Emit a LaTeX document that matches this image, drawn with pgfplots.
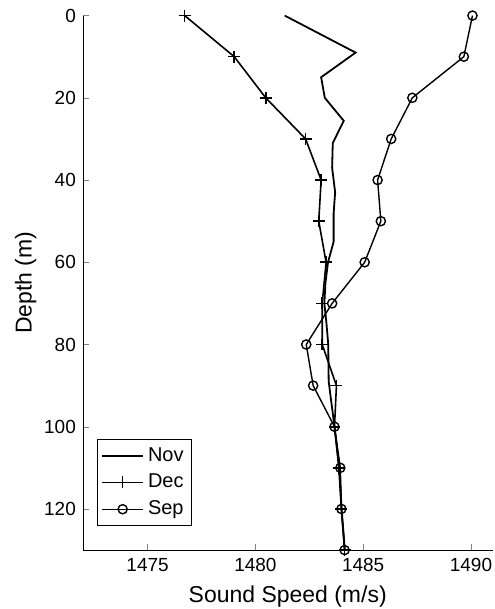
\documentclass[border=0pt]{standalone}
\usepackage{pgfplots}
\pgfplotsset{compat=1.18}
\usepackage{fontspec}
\setmainfont{Liberation Sans}
\begin{document}
\begin{tikzpicture}
\begin{axis}[
  scale only axis,
  width=205pt, height=267.5pt,
  xmin=1472, xmax=1491,
  ymin=0, ymax=130,
  y dir=reverse,
  axis x line*=bottom,
  axis y line*=left,
  tick align=inside,
  major tick length=3pt,
  xtick={1475,1480,1485,1490},
  ytick={0,20,40,60,80,100,120},
  /pgf/number format/assume math mode=true,
  /pgf/number format/1000 sep={},
  ticklabel style={font=\fontsize{9.5}{11}\selectfont},
  xticklabel style={anchor=base, yshift=-10.8pt},
  xlabel={Sound Speed (m/s)},
  ylabel={Depth (m)},
  label style={font=\fontsize{11.5}{13}\selectfont},
  xlabel style={at={(axis description cs:0.5,0)}, anchor=base, yshift=-26.3pt},
  ylabel style={at={(axis description cs:0,0.5)}, anchor=south, yshift=19.7pt},
  legend style={at={(axis description cs:0,0)}, anchor=south west, xshift=7pt, yshift=12pt,
    draw=black, font=\fontsize{10}{12}\selectfont, inner sep=2pt, row sep=1pt,
    cells={anchor=west}},
  legend image code/.code={\draw[mark repeat=2,mark phase=2] plot coordinates {(0cm,0cm)(0.36cm,0cm)(0.72cm,0cm)};},
  every axis plot/.append style={black},
]
\addplot[mark=none, line width=0.9pt] coordinates {
(1481.36,0) (1484.65,9) (1483.05,15) (1483.22,20) (1484.10,25.6) (1483.59,31) (1483.56,37)
(1483.70,43) (1483.63,48) (1483.63,55) (1483.37,60) (1483.25,65) (1483.20,70) (1483.30,75)
(1483.38,80) (1483.40,89) (1483.67,100) (1483.90,110) (1484.00,120) (1484.15,130)};
\addlegendentry{Nov}
\addplot[mark=+, mark size=3pt, line width=0.8pt] coordinates {
(1476.72,0) (1479.02,10) (1480.48,20) (1482.33,30) (1483.05,40) (1482.94,50) (1483.28,60)
(1483.10,70) (1483.10,80) (1483.76,90) (1483.67,100) (1483.87,110) (1483.99,120) (1484.14,130)};
\addlegendentry{Dec}
\addplot[mark=o, mark size=2.3pt, line width=0.7pt] coordinates {
(1490.07,0) (1489.67,10) (1487.28,20) (1486.30,30) (1485.67,40) (1485.82,50) (1485.07,60)
(1483.56,70) (1482.36,80) (1482.68,90) (1483.67,100) (1483.94,110) (1483.99,120) (1484.14,130)};
\addlegendentry{Sep}
\end{axis}
\pgfresetboundingbox
\path (current axis.south west) +(-41.5pt,-29.5pt) (current axis.north east) +(1pt,7.8pt);
\end{tikzpicture}
\end{document}
